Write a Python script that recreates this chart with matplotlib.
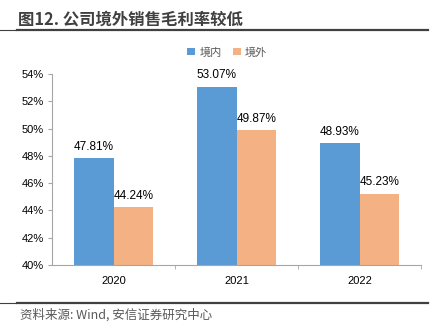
import matplotlib.pyplot as plt
import numpy as np

plt.rcParams['font.family'] = ['Noto Sans CJK SC', 'DejaVu Sans']

years = ['2020', '2021', '2022']
domestic = [47.81, 53.07, 48.93]
overseas = [44.24, 49.87, 45.23]
series_names = ['境内', '境外']

blue = '#5B9BD5'
orange = '#F4B183'

fig = plt.figure(figsize=(4.34, 3.25), dpi=100)
ax = fig.add_axes([52 / 434, 1 - 265 / 325, 369 / 434, 191 / 325])

x = np.arange(len(years))
w = 0.325
b1 = ax.bar(x - w / 2, domestic, w, color=blue, label=series_names[0])
b2 = ax.bar(x + w / 2, overseas, w, color=orange, label=series_names[1])

for bars, vals in ((b1, domestic), (b2, overseas)):
    for rect, v in zip(bars, vals):
        ax.text(rect.get_x() + rect.get_width() / 2, v + 0.4, f'{v:.2f}%',
                ha='center', va='bottom', fontsize=8.5, family='Liberation Sans')

ax.set_ylim(40, 54)
ax.set_yticks(range(40, 55, 2))
ax.set_yticklabels([f'{t}%' for t in range(40, 55, 2)], family='Liberation Sans', fontsize=8)
ax.set_xlim(-0.5, 2.5)
ax.set_xticks(x)
ax.set_xticklabels(years, family='Liberation Sans', fontsize=8)
ax.set_xticks([0.5, 1.5, 2.5], minor=True)
ax.tick_params(axis='x', which='major', length=0, pad=8)
ax.tick_params(axis='x', which='minor', length=3, color='#A6A6A6')
ax.tick_params(axis='y', length=3, color='#A6A6A6', pad=3)

for s in ('top', 'right'):
    ax.spines[s].set_visible(False)
for s in ('left', 'bottom'):
    ax.spines[s].set_color('#A6A6A6')

ax.legend(loc='lower center', bbox_to_anchor=(0.475, 1.035), ncol=2, frameon=False,
          fontsize=8, handlelength=0.7, handleheight=0.7, handletextpad=0.4,
          columnspacing=1.0, labelcolor='#595959')

# title and source lines
fig.text(18 / 434, 1 - 20 / 325, '图12. 公司境外销售毛利率较低', fontsize=11.8,
         fontweight='bold', color='#404040', va='center')
fig.add_artist(plt.Line2D([0, 16 / 434], [1 - 30 / 325] * 2, color='#404040', lw=0.8))
fig.add_artist(plt.Line2D([17 / 434, 428 / 434], [1 - 30 / 325] * 2, color='#404040', lw=1.6))
fig.add_artist(plt.Line2D([0, 16 / 434], [1 - 303 / 325] * 2, color='#404040', lw=0.8))
fig.add_artist(plt.Line2D([17 / 434, 428 / 434], [1 - 303 / 325] * 2, color='#404040', lw=1.6))
fig.text(20 / 434, 1 - 315 / 325, '资料来源: Wind, 安信证券研究中心', fontsize=9,
         color='#595959', style='italic', va='center')

fig.savefig('out.png', dpi=100)
